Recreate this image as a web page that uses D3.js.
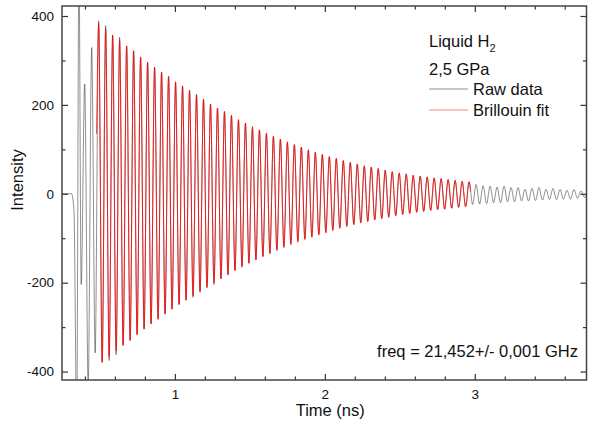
<!doctype html>
<html>
<head>
<meta charset="utf-8">
<script src="https://d3js.org/d3.v7.min.js"></script>
<style>
  body { margin: 0; background: #fff; }
  svg text { font-family: "Liberation Sans", Arial, sans-serif; fill: #111; }
</style>
</head>
<body>
<svg id="chart" width="589" height="422"></svg>
<script>
// values
var freqGHz = 21.452;                  // from the freq label
var halfPeriod = 1 / (2 * freqGHz);    // ns between a max and the next min
var t0 = 0.375;                        // time of the first regular extremum (ns)

// start of the trace, before the ringing settles
var onsetTime  = [0.247, 0.311, 0.327, 0.345, 0.360];
var onsetValue = [0, 0, -39, -520, 520];

// raw data: alternating min / max, one every half period from t0
var rawExtrema = [
  -204, 247, -430, 329, -358, 389, -380, 378, -375, 356,
  -362, 352, -341, 332, -331, 322, -318, 307, -305, 295,
  -293, 284, -283, 273, -271, 265, -260, 250, -249, 243,
  -240, 233, -233, 224, -222, 213, -212, 202, -204, 193,
  -191, 186, -182, 177, -172, 165, -163, 159, -155, 147,
  -148, 143, -140, 134, -133, 128, -125, 123, -118, 115,
  -111, 110, -105, 105, -101, 98, -96, 92, -90, 87,
  -85, 83, -80, 79, -76, 74, -71, 70, -68, 66,
  -64, 62, -61, 60, -58, 56, -55, 53, -51, 49,
  -48, 46, -46, 44, -43, 41, -41, 39, -39, 38,
  -37, 35, -35, 34, -35, 32, -33, 30, -31, 28,
  -29, 27, -24, 21, -23, 18, -22, 17, -20, 15,
  -20, 17, -18, 14, -18, 14, -16, 10, -16, 12,
  -15, 14, -14, 10, -13, 12, -13, 10, -12, 8,
  -12, 10, -10, 6, -8
];
var rawEndTime = 3.745, rawEndValue = 0;

// Brillouin fit: same extremum grid, starting at extremum #5
var fitFirst = 5;
var fitStartTime = 0.478, fitStartValue = 135;
var fitExtrema = [
  383, -378, 370, -366, 357, -353, 345, -341, 333, -329,
  321, -316, 308, -304, 296, -292, 285, -281, 274, -270,
  263, -259, 252, -249, 242, -239, 232, -229, 222, -219,
  212, -209, 202, -200, 193, -191, 184, -182, 176, -173,
  167, -165, 159, -157, 151, -149, 144, -142, 137, -135,
  130, -128, 123, -121, 117, -115, 111, -109, 105, -103,
  99, -98, 94, -93, 89, -88, 84, -83, 80, -78,
  75, -74, 71, -70, 67, -66, 63, -63, 60, -59,
  57, -56, 53, -53, 50, -50, 47, -47, 45, -45,
  42, -42, 40, -40, 38, -38, 36, -36, 34, -34,
  32, -32, 30, -30, 28, -29, 27
];
var fitEndTime = 2.972, fitEndValue = 5;

var xTicks = [1, 2, 3];
var xMinor = [0.4, 0.6, 0.8, 1.2, 1.4, 1.6, 1.8, 2.2, 2.4, 2.6, 2.8, 3.2, 3.4, 3.6];
var yTicks = [-400, -200, 0, 200, 400];
var yMinor = [-300, -100, 100, 300];

var legendLabels = ["Raw data", "Brillouin fit"];
var legendColors = ["#222", "#ff0000"];

// build point lists
var rawPts = [];
onsetTime.forEach(function(t, i){ rawPts.push([t, onsetValue[i]]); });
rawExtrema.forEach(function(v, i){ rawPts.push([t0 + i * halfPeriod, v]); });
rawPts.push([rawEndTime, rawEndValue]);

var fitPts = [[fitStartTime, fitStartValue]];
fitExtrema.forEach(function(v, k){ fitPts.push([t0 + (fitFirst + k) * halfPeriod, v]); });
fitPts.push([fitEndTime, fitEndValue]);

var plotL = 62, plotR = 586.5, plotT = 6, plotB = 380;
var svg = d3.select("#chart");

var xScale = d3.scaleLinear().domain([0.247, 3.745]).range([plotL, plotR]);
var yScale = d3.scaleLinear().domain([-419, 422.5]).range([plotB, plotT]);

svg.append("defs").append("clipPath").attr("id", "plotClip")
  .append("rect").attr("x", plotL).attr("y", plotT)
  .attr("width", plotR - plotL).attr("height", plotB - plotT);

var line = d3.line()
  .x(d => xScale(d[0]))
  .y(d => yScale(d[1]))
  .curve(d3.curveMonotoneX);

var plot = svg.append("g").attr("clip-path", "url(#plotClip)");
plot.append("path").attr("d", line(rawPts))
  .attr("fill", "none").attr("stroke", legendColors[0]).attr("stroke-width", 0.5);
plot.append("path").attr("d", line(fitPts))
  .attr("fill", "none").attr("stroke", legendColors[1]).attr("stroke-width", 0.8);

// axes, ticks pointing inward
function styleAxis(g){
  g.attr("font-size", null).attr("font-family", null);
  g.select(".domain").remove();
  g.selectAll("line").attr("stroke", "#333").attr("stroke-width", 1.2);
  g.selectAll("text").style("font-size", "13.5px").attr("fill", "#111");
}
var plainNum = d => String(d);

svg.append("g").attr("transform", "translate(0," + plotB + ")")
  .call(d3.axisBottom(xScale).tickValues(xTicks).tickSize(-6).tickPadding(9).tickFormat(plainNum))
  .call(styleAxis);
svg.append("g").attr("transform", "translate(0," + plotB + ")")
  .call(d3.axisBottom(xScale).tickValues(xMinor).tickSize(-3.5).tickFormat(""))
  .call(styleAxis);
svg.append("g").attr("transform", "translate(0," + plotT + ")")
  .call(d3.axisTop(xScale).tickValues(xTicks).tickSize(-6).tickFormat(""))
  .call(styleAxis);
svg.append("g").attr("transform", "translate(0," + plotT + ")")
  .call(d3.axisTop(xScale).tickValues(xMinor).tickSize(-3.5).tickFormat(""))
  .call(styleAxis);

svg.append("g").attr("transform", "translate(" + plotL + ",0)")
  .call(d3.axisLeft(yScale).tickValues(yTicks).tickSize(-6).tickPadding(8).tickFormat(plainNum))
  .call(styleAxis);
svg.append("g").attr("transform", "translate(" + plotL + ",0)")
  .call(d3.axisLeft(yScale).tickValues(yMinor).tickSize(-3.5).tickFormat(""))
  .call(styleAxis);
svg.append("g").attr("transform", "translate(" + plotR + ",0)")
  .call(d3.axisRight(yScale).tickValues(yTicks).tickSize(-6).tickFormat(""))
  .call(styleAxis);
svg.append("g").attr("transform", "translate(" + plotR + ",0)")
  .call(d3.axisRight(yScale).tickValues(yMinor).tickSize(-3.5).tickFormat(""))
  .call(styleAxis);

// frame
svg.append("rect").attr("x", plotL).attr("y", plotT)
  .attr("width", plotR - plotL).attr("height", plotB - plotT)
  .attr("fill", "none").attr("stroke", "#444").attr("stroke-width", 1.5);

// axis titles
svg.append("text").attr("x", (plotL + plotR) / 2 + 6).attr("y", 416)
  .attr("text-anchor", "middle").attr("font-size", "16.5px").text("Time (ns)");
svg.append("text").attr("transform", "translate(23,180) rotate(-90)")
  .attr("text-anchor", "middle").attr("font-size", "16.5px").text("Intensity");

// annotations
var title = svg.append("text").attr("x", 429).attr("y", 47).attr("font-size", "16.5px");
title.append("tspan").text("Liquid H");
title.append("tspan").attr("dy", 5).attr("font-size", "11px").text("2");
svg.append("text").attr("x", 429).attr("y", 75).attr("font-size", "16.5px").text("2,5 GPa");

legendLabels.forEach(function(lab, i){
  var y = 89 + i * 21;
  svg.append("line").attr("x1", 429).attr("x2", 468).attr("y1", y).attr("y2", y)
    .attr("stroke", legendColors[i]).attr("stroke-width", 0.7).attr("opacity", 0.7);
  svg.append("text").attr("x", 473).attr("y", y + 6).attr("font-size", "16.5px").text(lab);
});

svg.append("text").attr("x", 578).attr("y", 357).attr("text-anchor", "end")
  .attr("font-size", "16.5px").text("freq = 21,452+/- 0,001 GHz");
</script>
</body>
</html>
